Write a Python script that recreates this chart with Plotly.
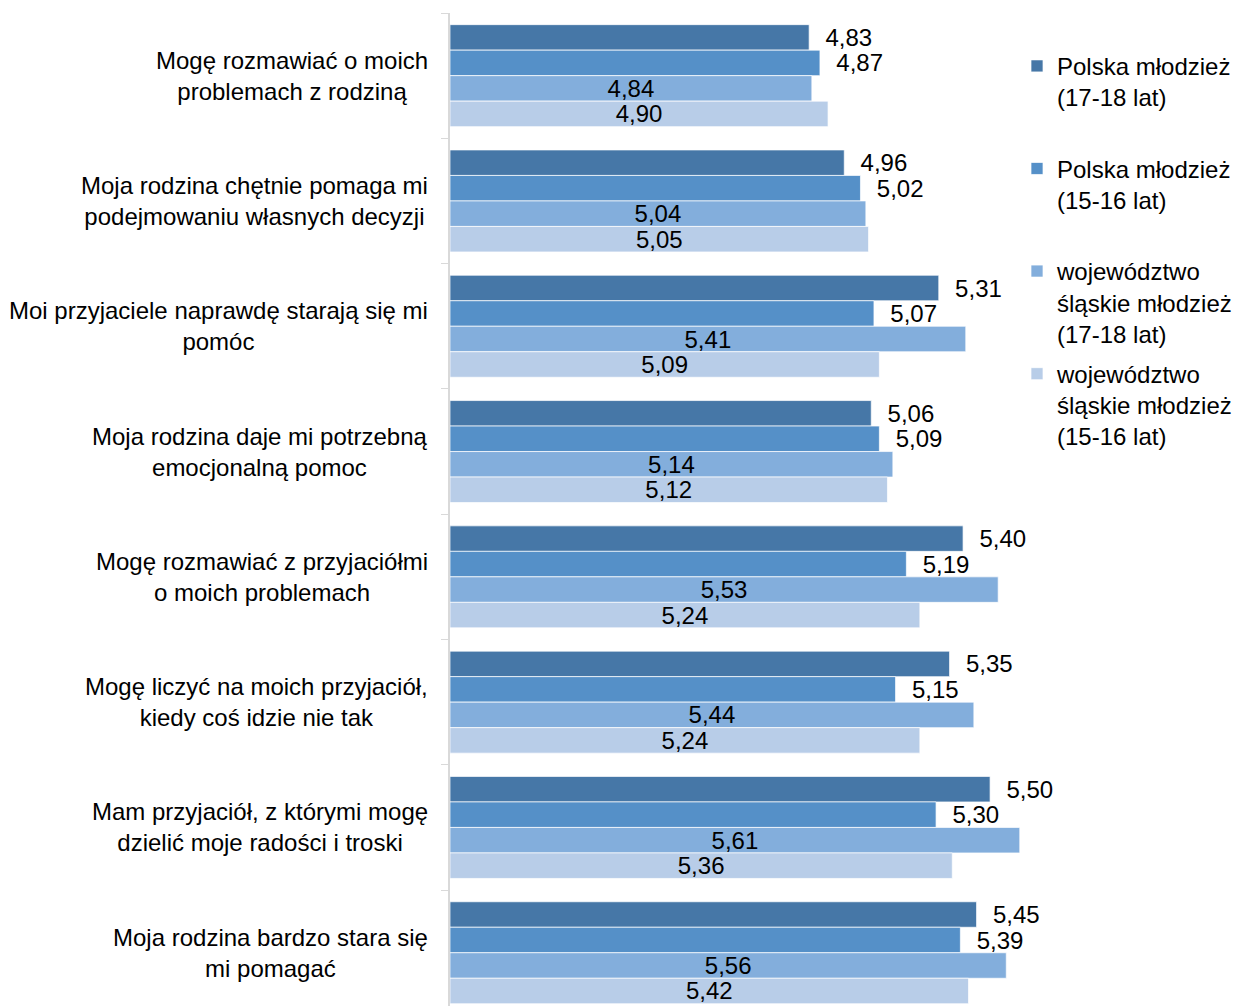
import plotly.graph_objects as go

categories = [
    "Mogę rozmawiać o moich<br>problemach z rodziną",
    "Moja rodzina chętnie pomaga mi<br>podejmowaniu własnych decyzji",
    "Moi przyjaciele naprawdę starają się mi<br>pomóc",
    "Moja rodzina daje mi potrzebną<br>emocjonalną pomoc",
    "Mogę rozmawiać z przyjaciółmi<br>o moich problemach",
    "Mogę liczyć na moich przyjaciół,<br>kiedy coś idzie nie tak",
    "Mam przyjaciół, z którymi mogę<br>dzielić moje radości i troski",
    "Moja rodzina bardzo stara się<br>mi pomagać",
]

series_names = [
    "Polska młodzież<br>(17-18 lat)<br>\u00a0",
    "Polska młodzież<br>(15-16 lat)<br>\u00a0",
    "województwo<br>śląskie młodzież<br>(17-18 lat)",
    "województwo<br>śląskie młodzież<br>(15-16 lat)",
]

polska_17_18 = [4.83, 4.96, 5.31, 5.06, 5.40, 5.35, 5.50, 5.45]
polska_15_16 = [4.87, 5.02, 5.07, 5.09, 5.19, 5.15, 5.30, 5.39]
slaskie_17_18 = [4.84, 5.04, 5.41, 5.14, 5.53, 5.44, 5.61, 5.56]
slaskie_15_16 = [4.90, 5.05, 5.09, 5.12, 5.24, 5.24, 5.36, 5.42]

axis_min = 3.5
axis_max = 6.407

series_values = [polska_17_18, polska_15_16, slaskie_17_18, slaskie_15_16]
colors = ["#4677A7", "#5590C8", "#83AEDC", "#B8CDE8"]
positions = ["outside", "outside", "inside", "inside"]

FONT = "Liberation Sans, Arial, sans-serif"
FS = 24


def fmt(v, pos):
    s = f"{v:.2f}".replace(".", ",")
    return ("\u00a0\u00a0" + s) if pos == "outside" else s


fig = go.Figure()
idx = list(range(len(categories)))
for name, vals, col, pos in zip(series_names, series_values, colors, positions):
    fig.add_trace(go.Bar(
        y=idx,
        x=[v - axis_min for v in vals],
        base=axis_min,
        orientation="h",
        name=name,
        legendgroup=name,
        marker=dict(color=col, line=dict(color="rgba(255,255,255,0.7)", width=1)),
        text=[fmt(v, pos) for v in vals],
        textposition=pos,
        insidetextanchor="middle",
        constraintext="none",
        textfont=dict(family=FONT, size=FS, color="#000000"),
        cliponaxis=False,
    ))

for i, cat in enumerate(categories):
    fig.add_annotation(
        x=0, xref="paper", y=i, yref="y",
        text=cat, showarrow=False,
        xanchor="right", yanchor="middle", align="center",
        xshift=-20,
        font=dict(family=FONT, size=FS, color="#000000"),
    )

fig.update_layout(
    width=1235, height=1006,
    margin=dict(l=450, r=0, t=13, b=0, autoexpand=False),
    paper_bgcolor="white", plot_bgcolor="white",
    barmode="group", bargap=0.186, bargroupgap=0,
    font=dict(family=FONT, size=FS, color="#000000"),
    showlegend=True,
    legend=dict(
        x=0.7223, xanchor="left", y=0.969, yanchor="top",
        valign="top", tracegroupgap=6,
        font=dict(family=FONT, size=FS, color="#000000"),
        bgcolor="rgba(0,0,0,0)",
    ),
    xaxis=dict(range=[axis_min, axis_max], showgrid=False, zeroline=False,
               showticklabels=False, showline=False, ticks=""),
    yaxis=dict(range=[7.425, -0.5], type="linear", showgrid=False, zeroline=False,
               showticklabels=False, showline=True, linecolor="#D9D9D9", linewidth=2,
               ticks="outside", ticklen=7, tickcolor="#D9D9D9", tickwidth=1,
               tickvals=[i - 0.5 for i in range(9)]),
)

fig.write_html(
    "out.html",
    config={"displayModeBar": False},
    post_script="document.body.style.margin='0px';document.body.style.overflow='hidden';",
)
